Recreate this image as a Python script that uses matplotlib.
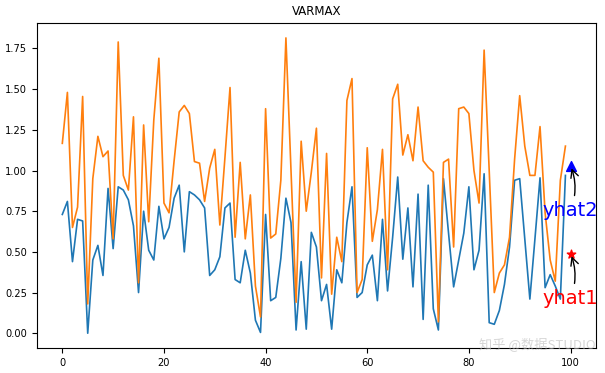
import matplotlib
matplotlib.use("Agg")
import matplotlib.pyplot as plt
import numpy as np

# data
series1 = [0.73, 0.81, 0.44, 0.70, 0.69, 0.00, 0.45, 0.54, 0.355, 0.89,
           0.52, 0.90, 0.88, 0.82, 0.66, 0.25, 0.75, 0.51, 0.45, 0.78,
           0.58, 0.65, 0.83, 0.91, 0.50, 0.87, 0.85, 0.82, 0.77, 0.355,
           0.39, 0.47, 0.77, 0.80, 0.33, 0.31, 0.51, 0.37, 0.08, 0.005,
           0.73, 0.20, 0.22, 0.46, 0.83, 0.68, 0.02, 0.44, 0.025, 0.62,
           0.53, 0.20, 0.30, 0.025, 0.39, 0.31, 0.68, 0.90, 0.22, 0.25,
           0.42, 0.48, 0.20, 0.70, 0.26, 0.59, 0.96, 0.455, 0.77, 0.285,
           0.855, 0.085, 0.91, 0.15, 0.02, 0.95, 0.615, 0.285, 0.45, 0.615,
           0.90, 0.39, 0.51, 0.98, 0.065, 0.055, 0.14, 0.30, 0.53, 0.94,
           0.95, 0.58, 0.21, 0.58, 0.955, 0.28, 0.36, 0.29, 0.21, 0.97]
series2 = [1.167, 1.48, 0.65, 0.775, 1.455, 0.18, 0.95, 1.21, 1.085, 1.12,
           0.58, 1.79, 0.97, 0.88, 1.33, 0.31, 1.28, 0.685, 1.31, 1.69,
           0.80, 0.74, 1.06, 1.36, 1.40, 1.35, 1.055, 1.045, 0.81, 1.015,
           1.13, 0.665, 1.08, 1.51, 0.59, 1.05, 0.58, 0.85, 0.29, 0.10,
           1.38, 0.585, 0.61, 0.94, 1.815, 1.0, 0.19, 1.18, 0.75, 0.99,
           1.26, 0.34, 1.105, 0.24, 0.59, 0.44, 1.43, 1.565, 0.25, 0.33,
           1.14, 0.565, 0.76, 1.13, 0.39, 1.44, 1.53, 1.095, 1.22, 1.06,
           1.39, 1.06, 1.02, 0.99, 0.07, 1.05, 1.07, 0.53, 1.38, 1.39,
           1.35, 1.00, 0.80, 1.74, 1.0, 0.25, 0.37, 0.42, 0.59, 1.07,
           1.46, 1.15, 0.97, 0.97, 1.27, 0.74, 0.45, 0.32, 0.94, 1.15]
yhat_x = 100
yhat1 = 0.49
yhat2 = 1.03
title = "VARMAX"

fig = plt.figure(figsize=(6.05, 3.73), dpi=100)
ax = fig.add_axes([0.061, 0.067, 0.924, 0.871])

x = np.arange(len(series1))
ax.plot(x, series1, color="#1f77b4", lw=1.2)
ax.plot(x, series2, color="#ff7f0e", lw=1.2)
ax.scatter([yhat_x], [yhat1], marker="*", color="red", s=40, zorder=3)
ax.scatter([yhat_x], [yhat2], marker="^", color="blue", s=50, zorder=3)

ax.annotate("yhat1", xy=(yhat_x, yhat1), xytext=(yhat_x, yhat1 - 0.31),
            color="red", fontsize=14, ha="center",
            arrowprops=dict(arrowstyle="->", color="black", connectionstyle="arc3,rad=0.2"))
ax.annotate("yhat2", xy=(yhat_x, yhat2), xytext=(yhat_x, yhat2 - 0.31),
            color="blue", fontsize=14, ha="center",
            arrowprops=dict(arrowstyle="->", color="black", connectionstyle="arc3,rad=0.2"))

ax.set_title(title, fontsize=8.5)
ax.tick_params(labelsize=7.1)
ax.set_yticks([0.0, 0.25, 0.5, 0.75, 1.0, 1.25, 1.5, 1.75])

fig.text(0.985, 0.078, "知乎 @数据STUDIO", fontsize=9.5, color="#bbbbbb", alpha=0.6,
         ha="right", va="center", family=["Noto Sans CJK SC", "DejaVu Sans"])

fig.savefig("out.png", dpi=100)
